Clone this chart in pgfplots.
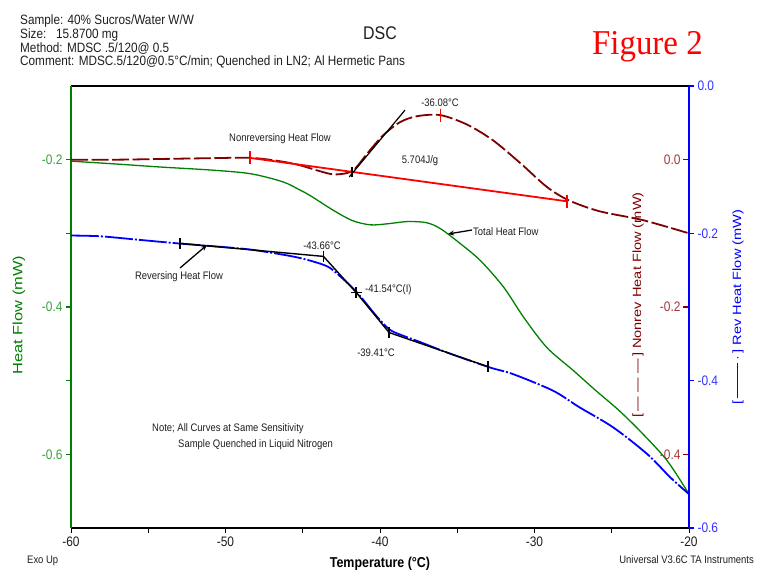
\documentclass[border=0pt]{standalone}
\usepackage{pgfplots}
\pgfplotsset{compat=1.18}
\usepackage{fontspec}
\setmainfont{Liberation Sans}
\newfontfamily\serifff{Liberation Serif}
\usetikzlibrary{arrows.meta}

\definecolor{dkgreen}{RGB}{0,128,0}
\definecolor{tickgreen}{RGB}{60,160,60}
\definecolor{dkred}{RGB}{128,0,0}
\definecolor{tickred}{RGB}{165,55,55}
\definecolor{myblue}{RGB}{0,0,255}
\definecolor{tickblue}{RGB}{50,50,255}
\definecolor{txt}{RGB}{30,30,30}

\newcommand{\vs}[1]{\scalebox{1}[1.15]{#1}}
\newcommand{\hs}[1]{\scalebox{1.22}[1]{#1}}
\newcommand{\tickfont}{\fontsize{12}{14}\selectfont}
\newcommand{\annfont}{\fontsize{9.5}{11}\selectfont}

\pgfplotsset{dscbase/.style={
  scale only axis, width=618bp, height=442bp,
  at={(71bp,-528bp)}, anchor=south west,
  xmin=-60, xmax=-20,
  /pgf/number format/assume math mode=true,
  tick label style={font=\tickfont},
}}

\begin{document}
\begin{tikzpicture}
\path[use as bounding box] (0,0) rectangle (761bp,-577bp);

% ---------------- Total heat flow (left, green) ----------------
\begin{axis}[dscbase,
  ymin=-0.7, ymax=-0.1,
  separate axis lines,
  every outer x axis line/.append style={black, line width=1.6bp},
  every outer y axis line/.append style={dkgreen, line width=1.6bp},
  xtick={-60,-50,-40,-30,-20}, minor xtick={-55,-45,-35,-25},
  ytick={-0.6,-0.4,-0.2}, minor ytick={-0.5,-0.3},
  tick pos=left, tick align=outside,
  major tick length=5bp, minor tick length=5bp,
  x tick style={black, line width=1bp},
  y tick style={dkgreen, line width=1.3bp},
  xticklabel={\vs{\pgfmathprintnumber{\tick}}},
  yticklabel={\vs{\pgfmathprintnumber{\tick}}},
  xticklabel style={text=txt},
  yticklabel style={text=tickgreen, /pgf/number format/.cd, fixed, precision=1, zerofill},
]
\addplot[dkgreen, line width=1.3bp, smooth] coordinates {
(-60,-0.202) (-57,-0.206) (-54.2,-0.210) (-51,-0.214) (-48.4,-0.219)
(-46.3,-0.230) (-45.2,-0.241) (-44.5,-0.249) (-43.0,-0.269) (-41.75,-0.283)
(-40.6,-0.2885) (-39.5,-0.287) (-38.2,-0.284) (-37.0,-0.2855) (-36.1,-0.2935)
(-34.8,-0.314) (-33.5,-0.337) (-32.0,-0.373) (-30.7,-0.414) (-29.2,-0.455)
(-27.5,-0.486) (-26.0,-0.514) (-24.5,-0.541) (-23.0,-0.572) (-21.4,-0.609)
(-20,-0.654)
};
\end{axis}

% ---------------- Nonreversing heat flow (inner right, dark red) ----------------
\begin{axis}[dscbase,
  ymin=-0.5, ymax=0.1,
  axis x line=none, axis y line*=right,
  y axis line style={draw=none},
  ytick={-0.4,-0.2,0},
  tick align=inside, major tick length=6bp,
  y tick style={dkred, line width=1.5bp},
  yticklabel={\vs{\pgfmathprintnumber{\tick}}},
  yticklabel style={anchor=east, xshift=-5bp, text=tickred, /pgf/number format/.cd, fixed, precision=1, zerofill},
]
\addplot[dkred, line width=1.8bp, smooth, dash pattern=on 17bp off 3.5bp] coordinates {
(-60,0.000) (-57,0.000) (-54,0.001) (-51,0.002) (-48.4,0.0025)
(-46.5,-0.002) (-45.2,-0.0075) (-43.9,-0.0156) (-43.0,-0.020) (-42.1,-0.018)
(-41.6,-0.012) (-40.8,0.009) (-39.8,0.033) (-38.7,0.051) (-37.6,0.059)
(-36.1,0.0605) (-34.4,0.048) (-32.7,0.0265) (-30.9,-0.005) (-29.2,-0.037)
(-27.8,-0.055) (-25.8,-0.070) (-23.0,-0.082) (-20,-0.100)
};
\addplot[red, line width=1.8bp] coordinates {(-48.41,0.0024) (-27.9,-0.0565)};
\addplot[black, line width=1.2bp] coordinates {(-41.99,-0.0234) (-38.38,0.0673)};
\addplot[red, only marks, mark=|, mark size=6.5bp, mark options={line width=1.3bp}] coordinates {
(-48.41,0.0024) (-36.08,0.0605) (-27.9,-0.0565)};
\addplot[black, only marks, mark=|, mark size=5bp, mark options={line width=1.6bp}] coordinates {
(-41.81,-0.0165)};
\end{axis}

% ---------------- Reversing heat flow (outer right, blue) ----------------
\begin{axis}[dscbase,
  ymin=-0.6, ymax=0,
  axis x line=none, axis y line*=right,
  y axis line style={myblue, line width=1.8bp, -},
  ytick={-0.6,-0.4,-0.2,0},
  tick align=outside, major tick length=5bp,
  y tick style={myblue, line width=1.3bp},
  yticklabel={\vs{\pgfmathprintnumber{\tick}}},
  yticklabel style={text=tickblue, /pgf/number format/.cd, fixed, precision=1, zerofill},
]
\addplot[myblue, line width=1.8bp, smooth, dash pattern=on 28bp off 2bp on 2bp off 2bp] coordinates {
(-60,-0.203) (-58.1,-0.204) (-55.5,-0.209) (-52.9,-0.214) (-50.5,-0.218)
(-48.4,-0.222) (-46.0,-0.230) (-44.7,-0.236) (-43.4,-0.245) (-42.6,-0.258)
(-41.5,-0.280) (-40.2,-0.313) (-39.35,-0.331) (-38.5,-0.339) (-37.6,-0.346)
(-35.5,-0.363) (-32.9,-0.382) (-31.4,-0.391) (-28.8,-0.4136) (-27.1,-0.436)
(-24.9,-0.4635) (-22.7,-0.4997) (-21.2,-0.5315) (-20,-0.554)
};
\addplot[black, line width=1.4bp] coordinates {(-52.94,-0.2136) (-43.66,-0.2313)};
\addplot[black, line width=1.4bp] coordinates {(-43.66,-0.2313) (-41.54,-0.2803) (-39.41,-0.3347)};
\addplot[black, line width=1.4bp] coordinates {(-39.41,-0.3347) (-33.01,-0.381)};
\addplot[black, only marks, mark=|, mark size=5.5bp, mark options={line width=1.3bp}] coordinates {
(-52.94,-0.2136) (-43.66,-0.2313) (-39.41,-0.3347) (-33.01,-0.381)};
\addplot[black, only marks, mark=+, mark size=5.5bp, mark options={line width=1.5bp}] coordinates {
(-41.54,-0.2803)};
\end{axis}

% ---------------- Texts ----------------
\begin{scope}[x=1bp,y=-1bp]
\begin{scope}[font=\fontsize{11.8}{13}\selectfont, text=txt]
\node[anchor=base west, inner sep=0] at (20,25) {\vs{Sample: 40\% Sucros/Water W/W}};
\node[anchor=base west, inner sep=0] at (20,38.5) {\vs{Size:\ \ \ 15.8700 mg}};
\node[anchor=base west, inner sep=0] at (20,52) {\vs{Method: MDSC .5/120@ 0.5}};
\node[anchor=base west, inner sep=0] at (20,65.5) {\vs{Comment: MDSC.5/120@0.5°C/min; Quenched in LN2; Al Hermetic Pans}};
\end{scope}
\node[anchor=base, inner sep=0, font=\fontsize{16}{18}\selectfont, text=txt] at (380,39.5) {\vs{DSC}};
\node[anchor=base west, inner sep=0, font=\serifff\fontsize{33}{36}\selectfont, text=red] at (592,55) {\scalebox{1}[1.06]{Figure 2}};

\begin{scope}[font=\annfont, text=txt]
\node[anchor=base, inner sep=0] at (280,141) {\vs{Nonreversing Heat Flow}};
\node[anchor=base, inner sep=0] at (420,163) {\vs{5.704J/g}};
\node[anchor=base, inner sep=0] at (440,106) {\vs{-36.08°C}};
\node[anchor=base west, inner sep=0] at (473,235) {\vs{Total Heat Flow}};
\node[anchor=base, inner sep=0] at (179,279) {\vs{Reversing Heat Flow}};
\node[anchor=base, inner sep=0] at (322,249) {\vs{-43.66°C}};
\node[anchor=base west, inner sep=0] at (365,292) {\vs{-41.54°C(I)}};
\node[anchor=base, inner sep=0] at (376,356) {\vs{-39.41°C}};
\node[anchor=base west, inner sep=0] at (152,431) {\vs{Note; All Curves at Same Sensitivity}};
\node[anchor=base west, inner sep=0] at (178,447) {\vs{Sample Quenched in Liquid Nitrogen}};
\node[anchor=base west, inner sep=0] at (27,563) {\vs{Exo Up}};
\node[anchor=base east, inner sep=0] at (754,563) {\vs{Universal V3.6C TA Instruments}};
\end{scope}

\draw[black, line width=1.3bp, -{Stealth[length=6bp,width=5bp]}] (180,268) -- (207,245);
\draw[black, line width=1.3bp, -{Stealth[length=6bp,width=5bp]}] (472,230) -- (448,234);

\node[anchor=base, inner sep=0, font=\bfseries\fontsize{12.5}{14}\selectfont, text=black] at (380,567) {\vs{Temperature (°C)}};

\node[rotate=90, inner sep=0, font=\fontsize{13.5}{15}\selectfont, text=dkgreen] at (19,315) {\hs{Heat Flow (mW)}};
\node[rotate=90, inner sep=0, font=\fontsize{12}{14}\selectfont, text=dkred] at (638,305) {\hs{[\,--- --- ---\,]\ Nonrev Heat Flow (mW)}};
\node[rotate=90, inner sep=0, font=\fontsize{12}{14}\selectfont, text=myblue] at (738,307) {\hs{[\,\rule[0.3em]{2.4em}{0.08em}\,·\,]\ Rev Heat Flow (mW)}};
\end{scope}
\end{tikzpicture}
\end{document}
